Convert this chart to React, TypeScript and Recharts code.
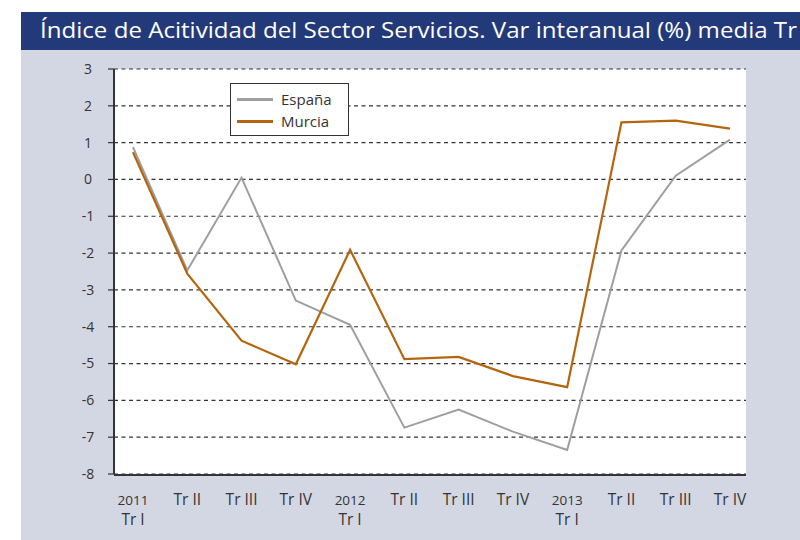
import {
    CartesianGrid,
    Legend,
    Line,
    LineChart,
    XAxis,
    YAxis,
} from "recharts";

// quarters, year only shown on the first one
const periods = [
    "2011 Tr I", "2011 Tr II", "2011 Tr III", "2011 Tr IV",
    "2012 Tr I", "2012 Tr II", "2012 Tr III", "2012 Tr IV",
    "2013 Tr I", "2013 Tr II", "2013 Tr III", "2013 Tr IV",
];

const espana = [0.88, -2.47, 0.05, -3.29, -3.95, -6.74, -6.25, -6.85, -7.35, -1.93, 0.1, 1.08];
const murcia = [0.74, -2.56, -4.38, -5.02, -1.91, -4.88, -4.82, -5.34, -5.64, 1.55, 1.6, 1.38];

const yTicks = [-8, -7, -6, -5, -4, -3, -2, -1, 0, 1, 2, 3];
const bandTicks = [0, 1, 2, 3, 4, 5, 6, 7, 8, 9, 10, 11, 12];

const title = "Índice de Acitividad del Sector Servicios. Var interanual (%) media Tr";

const data = periods.map((period, i) => ({
    period,
    slot: i,
    "España": espana[i],
    Murcia: murcia[i],
}));

const FONT = "'Open Sans', sans-serif";
const INK = "#333333";

function QuarterTick({ x, y, payload }: any) {
    const [year, ...rest] = String(payload.value).split(" ");
    const quarter = rest.join(" ");
    const firstOfYear = quarter === "Tr I";
    return (
        <text x={x} y={y} textAnchor="middle" fontFamily={FONT} fontSize={15.5} fill={INK}>
            {firstOfYear ? (
                <>
                    <tspan x={x} dy={31} fontSize={13.5}>{year}</tspan>
                    <tspan x={x} dy={20}>{quarter}</tspan>
                </>
            ) : (
                <tspan x={x} dy={31}>{quarter}</tspan>
            )}
        </text>
    );
}

function ValueTick({ x, y, payload }: any) {
    return (
        <text x={x - 18} y={y} dy="0.35em" textAnchor="middle" fontFamily={FONT} fontSize={14} fill={INK}>
            {payload.value}
        </text>
    );
}

function LegendBox({ payload }: any) {
    return (
        <div
            style={{
                width: 119,
                height: 53,
                boxSizing: "border-box",
                border: `1px solid ${INK}`,
                background: "#fff",
                paddingTop: 4,
                fontFamily: FONT,
                fontSize: 15,
                color: INK,
            }}>
            {(payload || []).map((item: any) => (
                <div key={item.value} style={{ display: "flex", alignItems: "center", height: 22 }}>
                    <span style={{ width: 36, height: 3, marginLeft: 6, background: item.color }} />
                    <span style={{ marginLeft: 8 }}>{item.value}</span>
                </div>
            ))}
        </div>
    );
}

export default function App() {
    return (
        <div
            style={{
                position: "absolute",
                left: 0,
                top: 0,
                width: 800,
                height: 540,
                background: "#fff",
                overflow: "hidden",
            }}>
            <div style={{ position: "absolute", left: 21, top: 50, right: 0, bottom: 0, background: "#d3d7e3" }} />
            <div style={{ position: "absolute", left: 21, top: 12, width: 779, height: 38, background: "#233a7a" }}>
                <svg width={779} height={38}>
                    <text
                        x={19}
                        y={26}
                        fontFamily={FONT}
                        fontSize={21}
                        fill="#fff"
                        textLength={757}
                        lengthAdjust="spacingAndGlyphs">
                        {title}
                    </text>
                </svg>
            </div>
            <div style={{ position: "absolute", left: 0, top: 0 }}>
                <LineChart
                    width={800}
                    height={540}
                    data={data}
                    margin={{ top: 69, right: 54, bottom: 64, left: 0 }}>
                    <CartesianGrid
                        xAxisId="labels"
                        vertical={false}
                        fill="#fff"
                        stroke={INK}
                        strokeWidth={1.2}
                        strokeDasharray="4 3.5"
                    />
                    <XAxis
                        xAxisId="labels"
                        dataKey="period"
                        padding={{ left: 19, right: 16 }}
                        axisLine={false}
                        tickLine={false}
                        tickSize={0}
                        tickMargin={0}
                        interval={0}
                        height={1}
                        tick={<QuarterTick />}
                    />
                    <XAxis
                        xAxisId="marks"
                        dataKey="slot"
                        type="number"
                        domain={[0, 12]}
                        ticks={bandTicks}
                        allowDataOverflow
                        tick={false}
                        tickSize={8}
                        tickLine={{ stroke: INK, strokeWidth: 2 }}
                        axisLine={{ stroke: INK, strokeWidth: 2 }}
                        height={1}
                    />
                    <YAxis
                        domain={[-8, 3]}
                        ticks={yTicks}
                        width={114}
                        tickSize={6}
                        tickMargin={2}
                        allowDataOverflow
                        tickLine={{ stroke: INK, strokeWidth: 1.2 }}
                        axisLine={{ stroke: INK, strokeWidth: 2 }}
                        tick={<ValueTick />}
                    />
                    <Legend
                        layout="vertical"
                        align="center"
                        verticalAlign="middle"
                        wrapperStyle={{ left: 230, top: 83, width: 119 }}
                        content={<LegendBox />}
                    />
                    <Line
                        xAxisId="labels"
                        type="linear"
                        dataKey="España"
                        stroke="#9e9e9e"
                        strokeWidth={2}
                        dot={false}
                        isAnimationActive={false}
                    />
                    <Line
                        xAxisId="labels"
                        type="linear"
                        dataKey="Murcia"
                        stroke="#b5650d"
                        strokeWidth={2.2}
                        dot={false}
                        isAnimationActive={false}
                    />
                </LineChart>
            </div>
        </div>
    );
}
